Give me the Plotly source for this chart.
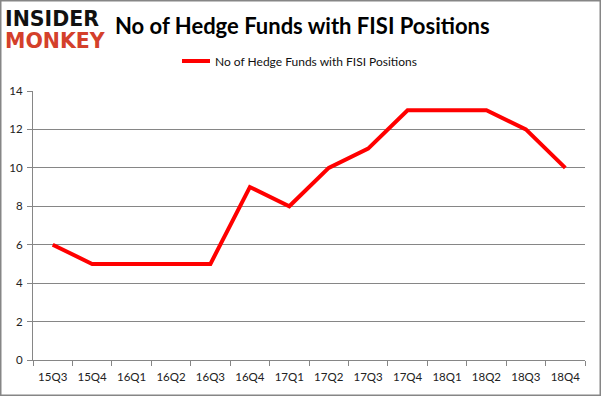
import plotly.graph_objects as go

quarters = ["15Q3", "15Q4", "16Q1", "16Q2", "16Q3", "16Q4", "17Q1", "17Q2",
            "17Q3", "17Q4", "18Q1", "18Q2", "18Q3", "18Q4"]
funds = [6, 5, 5, 5, 5, 9, 8, 10, 11, 13, 13, 13, 12, 10]
series_name = "No of Hedge Funds with FISI Positions"
y_ticks = [0, 2, 4, 6, 8, 10, 12, 14]

W, H = 601, 396
L, R, T, B = 33, 16, 91, 36
PW, PH = W - L - R, H - T - B


def px(x):
    return (x - L) / PW


def py(y):
    return (H - B - y) / PH


fig = go.Figure()
fig.add_trace(go.Scatter(
    x=quarters, y=funds, mode="lines", name=series_name,
    line=dict(color="#ff0000", width=4), showlegend=False,
))

fig.update_layout(
    width=W, height=H,
    margin=dict(l=L, r=R, t=T, b=B, autoexpand=False),
    paper_bgcolor="white", plot_bgcolor="white",
    font=dict(family="Lato, Open Sans, sans-serif", size=11, color="#222222"),
    showlegend=False,
)

# Title
fig.add_annotation(text="<b>" + series_name + "</b>",
                   xref="paper", yref="paper", x=px(302), y=py(25),
                   xanchor="center", yanchor="middle", showarrow=False,
                   font=dict(family="Lato, sans-serif", size=22, color="#000000"))
# Legend (manual)
fig.add_shape(type="line", xref="paper", yref="paper",
              x0=px(182), x1=px(210), y0=py(61), y1=py(61),
              line=dict(color="#ff0000", width=4))
fig.add_annotation(text=series_name, xref="paper", yref="paper",
                   x=px(213), y=py(61), xanchor="left", yanchor="middle",
                   showarrow=False,
                   font=dict(family="Lato, sans-serif", size=12, color="#111111"))
# Logo
fig.add_annotation(text="<b>INSIDER</b>", xref="paper", yref="paper",
                   x=px(3), y=py(19), xanchor="left", yanchor="middle",
                   showarrow=False,
                   font=dict(family="DejaVu Sans, sans-serif", size=20.5, color="#111111"))
fig.add_annotation(text="<b>MONKEY</b>", xref="paper", yref="paper",
                   x=px(3), y=py(41), xanchor="left", yanchor="middle",
                   showarrow=False,
                   font=dict(family="DejaVu Sans, sans-serif", size=20.5, color="#d4402b"))

fig.update_xaxes(
    type="category", range=[-0.5, len(quarters) - 0.5],
    showline=True, linecolor="#868686", linewidth=1,
    ticks="outside", tickson="boundaries", ticklen=5, tickcolor="#868686",
    showgrid=False, tickfont=dict(size=11.5, color="#222222"),
    tickangle=0, ticklabelstandoff=6,
)
fig.update_yaxes(
    range=[0, 14], tickvals=y_ticks,
    showline=True, linecolor="#868686", linewidth=1,
    ticks="outside", ticklen=5, tickcolor="#868686",
    showgrid=True, gridcolor="#868686", gridwidth=1,
    zeroline=False, tickfont=dict(size=11.5, color="#222222"),
    ticklabelstandoff=2,
)

# outer border
fig.add_shape(type="rect", xref="paper", yref="paper",
              x0=px(0.75), x1=px(W - 0.75), y0=py(H - 0.75), y1=py(0.75),
              line=dict(color="#868686", width=1.5), layer="below")

fig.write_html("out.html", config={"displayModeBar": False},
               post_script="document.body.style.margin='0';document.body.style.overflow='hidden';")
